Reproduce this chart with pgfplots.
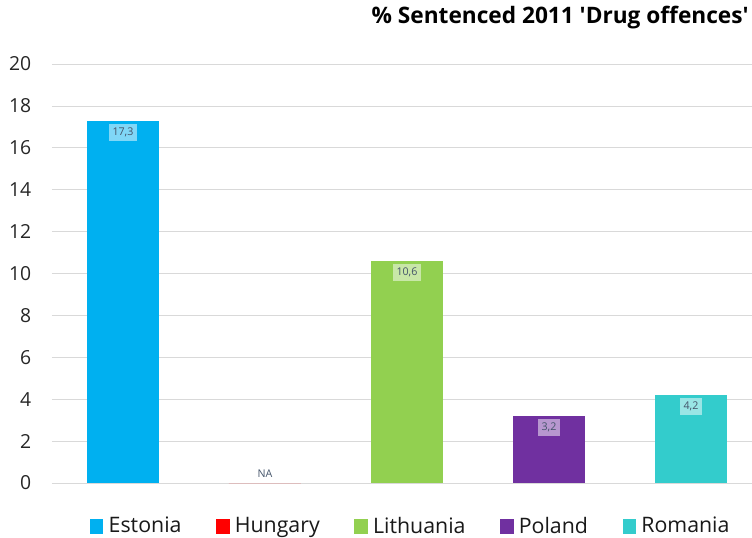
\documentclass[border=0pt]{standalone}
\usepackage{pgfplots}
\pgfplotsset{compat=1.18}
\usepackage{fontspec}
\setmainfont{Open Sans}
\definecolor{cEst}{HTML}{00B0F0}
\definecolor{cHun}{HTML}{FF0000}
\definecolor{cLit}{HTML}{92D050}
\definecolor{cPol}{HTML}{7030A0}
\definecolor{cRom}{HTML}{33CCCC}
\definecolor{gridc}{HTML}{D9D9D9}
\definecolor{lblc}{HTML}{44546A}
\begin{document}
\begin{tikzpicture}
\begin{axis}[
  at={(0,0)}, anchor=south west,
  scale only axis,
  width=525pt, height=314.25pt,
  xmin=-0.5, xmax=4.43,
  ymin=0, ymax=20,
  ytick={0,2,...,20},
  xtick=\empty,
  ymajorgrids, major grid style={gridc, line width=0.6pt},
  axis line style={draw=none},
  major tick length=0pt,
  /pgf/number format/assume math mode=true,
  yticklabel style={font=\fontsize{14.5}{16}\selectfont, text=black!85, xshift=-12pt},
  ybar, bar width=54pt, bar shift=0pt,
  title={\bfseries\% Sentenced 2011 \textquotesingle Drug offences\textquotesingle},
  title style={font=\fontsize{17}{20}\selectfont, at={(1,1)}, anchor=east, yshift=28.5pt, xshift=1pt},
  nodes near coords,
  nodes near coords style={font=\fontsize{8}{9}\selectfont, text=lblc, fill=white, fill opacity=0.5, text opacity=1, inner xsep=2.5pt, inner ysep=3pt, anchor=north, yshift=-2pt,
    /pgf/number format/use comma,
    /pgf/number format/fixed, /pgf/number format/fixed zerofill, /pgf/number format/precision=1},
  legend columns=5,
  legend style={draw=none, at={(0.513,-0.103)}, anchor=center, font=\fontsize{16}{18}\selectfont, text=black!90,
    /tikz/every odd column/.append style={column sep=2pt},
    /tikz/every even column/.append style={column sep=24pt}},
  legend image code/.code={\path[#1, draw=none] (0pt,-6pt) rectangle (10pt,5pt);},
]
\addplot[fill=cEst, draw=none] coordinates {(0,17.3)};
\addlegendentry{Estonia}
\addplot[fill=cHun, draw=none, nodes near coords={NA}, nodes near coords style={anchor=south, yshift=3pt, fill=none}] coordinates {(1,0)};
\addlegendentry{Hungary}
\addplot[fill=cLit, draw=none] coordinates {(2,10.6)};
\addlegendentry{Lithuania}
\addplot[fill=cPol, draw=none] coordinates {(3,3.2)};
\addlegendentry{Poland}
\addplot[fill=cRom, draw=none] coordinates {(4,4.2)};
\addlegendentry{Romania}
\end{axis}
\pgfresetboundingbox
\path[use as bounding box] (-39pt,-40.5pt) rectangle (525pt,362.25pt);
\end{tikzpicture}
\end{document}
